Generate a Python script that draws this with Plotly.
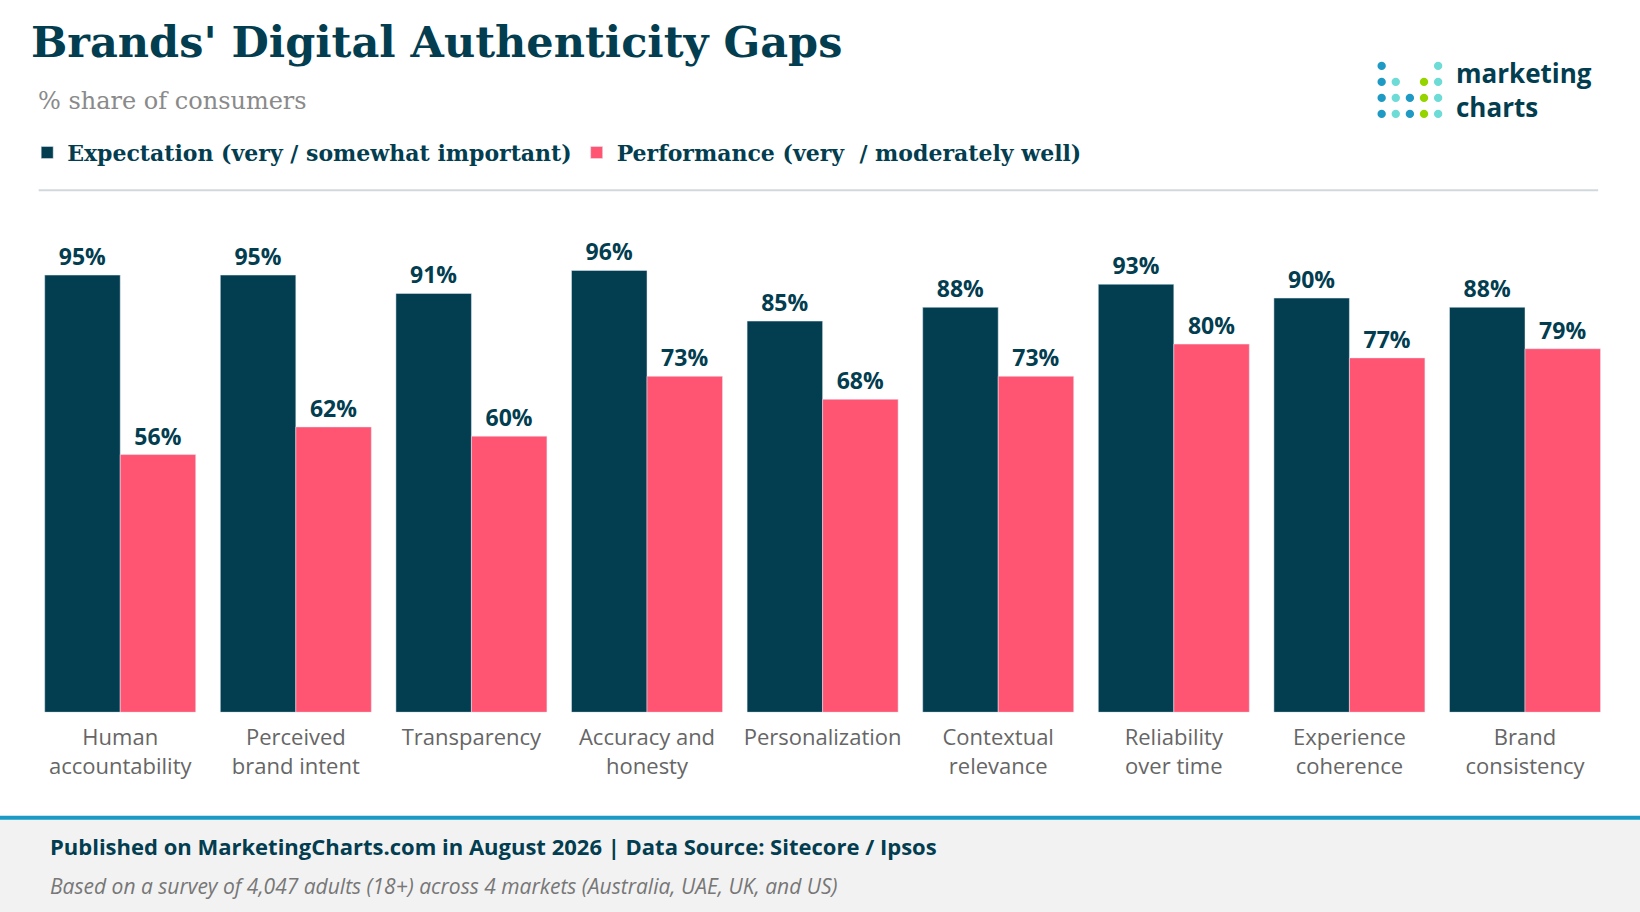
import plotly.graph_objects as go

# ~~~ Data ~~~
categories = ["Human<br>accountability", "Perceived<br>brand intent", "Transparency",
              "Accuracy and<br>honesty", "Personalization", "Contextual<br>relevance",
              "Reliability<br>over time", "Experience<br>coherence", "Brand<br>consistency"]
expectation = [95, 95, 91, 96, 85, 88, 93, 90, 88]
performance = [56, 62, 60, 73, 68, 73, 80, 77, 79]

W, H = 1640, 912
RW, RH = 1568, 872  # reference pixel grid


def fx(x):
    return x / RW


def fy(y):
    return 1 - y / RH


DARK = "#023d50"
PINK = "#ff5573"

fig = go.Figure()
fig.add_trace(go.Bar(x=categories, y=expectation, name="Expectation (very / somewhat important)",
                     marker_color=DARK, text=[f"{v}%" for v in expectation],
                     textposition="outside", cliponaxis=False,
                     textfont=dict(family="Open Sans", size=23, color=DARK, weight="bold")))
fig.add_trace(go.Bar(x=categories, y=performance, name="Performance (very  / moderately well)",
                     marker_color=PINK, text=[f"{v}%" for v in performance],
                     textposition="outside", cliponaxis=False,
                     textfont=dict(family="Open Sans", size=23, color=DARK, weight="bold")))

fig.update_layout(
    width=W, height=H, margin=dict(l=0, r=0, t=0, b=0),
    paper_bgcolor="white", plot_bgcolor="white",
    barmode="group", bargap=0.14, bargroupgap=0,
    showlegend=True,
    legend=dict(orientation="h", x=fx(26), y=fy(146), yanchor="middle", xanchor="left",
                font=dict(family="DejaVu Serif", size=22, color=DARK, weight="bold"),
                itemwidth=30, traceorder="normal"),
    xaxis=dict(domain=[fx(31), fx(1542)], showline=False, ticks="", ticklabelstandoff=10,
               tickfont=dict(family="Open Sans", size=22, color="#666666")),
    yaxis=dict(domain=[fy(681), fy(241)], range=[0, 100], visible=False),
    font=dict(family="Open Sans"),
)

# title and subtitle
fig.add_annotation(text="Brands' Digital Authenticity Gaps", x=fx(28), y=fy(40), xref="paper", yref="paper",
                   xanchor="left", yanchor="middle", showarrow=False,
                   font=dict(family="DejaVu Serif", size=43, color=DARK, weight="bold"))
fig.add_annotation(text="% share of consumers", x=fx(34), y=fy(97), xref="paper", yref="paper",
                   xanchor="left", yanchor="middle", showarrow=False,
                   font=dict(family="DejaVu Serif", size=24, color="#8a8a8a"))

# divider under legend
fig.add_shape(type="line", xref="paper", yref="paper", x0=fx(37), x1=fx(1528), y0=fy(182), y1=fy(182),
              line=dict(color="#d0d8dc", width=2))

# footer
fig.add_shape(type="rect", xref="paper", yref="paper", x0=0, x1=1, y0=0, y1=fy(782),
              fillcolor="#f2f2f2", line_width=0, layer="below")
fig.add_shape(type="line", xref="paper", yref="paper", x0=0, x1=1, y0=fy(782), y1=fy(782),
              line=dict(color="#1a9bc6", width=4))
fig.add_annotation(text="Published on MarketingCharts.com in August 2026 | Data Source: Sitecore / Ipsos",
                   x=fx(46), y=fy(809), xref="paper", yref="paper", xanchor="left", yanchor="middle",
                   showarrow=False, font=dict(family="Open Sans", size=22, color=DARK, weight="bold"))
fig.add_annotation(text="<i>Based on a survey of 4,047 adults (18+) across 4 markets (Australia, UAE, UK, and US)</i>",
                   x=fx(46), y=fy(847), xref="paper", yref="paper", xanchor="left", yanchor="middle",
                   showarrow=False, font=dict(family="Open Sans", size=21, color="#777777"))

# logo: 5 columns x 4 rows of dots
B, T, G = "#1f9ac4", "#6ddbd6", "#96d400"
dot_grid = [[B, B, B, B], [None, T, T, T], [None, None, B, B], [None, G, G, G], [T, T, T, T]]
for i, col in enumerate(dot_grid):
    for j, c in enumerate(col):
        if c is None:
            continue
        cx, cy = 1321 + i * 13.5, 63 + j * 15.3
        fig.add_shape(type="circle", xref="paper", yref="paper",
                      x0=fx(cx - 4), x1=fx(cx + 4), y0=fy(cy - 4), y1=fy(cy + 4),
                      fillcolor=c, line_width=0)
fig.add_annotation(text="marketing<br>charts", x=fx(1390), y=fy(86), xref="paper", yref="paper",
                   xanchor="left", yanchor="middle", align="left", showarrow=False,
                   font=dict(family="Open Sans", size=26, color=DARK, weight="bold"))

fig.write_html("out.html", config={"displayModeBar": False},
               post_script="document.body.style.margin='0';")
